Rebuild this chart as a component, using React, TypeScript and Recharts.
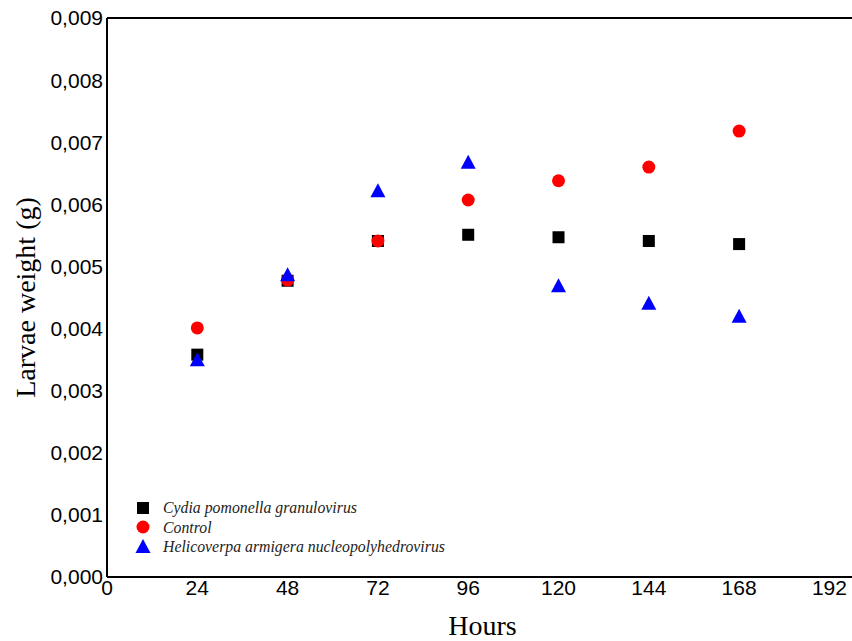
import { ScatterChart, Scatter, XAxis, YAxis, Legend, ReferenceLine } from "recharts";

const hours = [24, 48, 72, 96, 120, 144, 168];
const cpgv = [0.00358, 0.00477, 0.00541, 0.00551, 0.00547, 0.00541, 0.00536];
const control = [0.00401, 0.00478, 0.00541, 0.00607, 0.00638, 0.0066, 0.00718];
const hearnpv = [0.00349, 0.00486, 0.00621, 0.00667, 0.00468, 0.0044, 0.00419];
const xTicks = [0, 24, 48, 72, 96, 120, 144, 168, 192];
const yTicks = [0, 0.001, 0.002, 0.003, 0.004, 0.005, 0.006, 0.007, 0.008, 0.009];

const series = [
  { name: "Cydia pomonella granulovirus", values: cpgv, color: "#000000", shape: "square" },
  { name: "Control", values: control, color: "#ff0000", shape: "circle" },
  { name: "Helicoverpa armigera nucleopolyhedrovirus", values: hearnpv, color: "#0000ff", shape: "triangle" },
];

const toPoints = (vals: number[]) => hours.map((h, i) => ({ x: h, y: vals[i] }));

function Marker({ cx, cy, kind, color }: any) {
  if (cx == null || cy == null) return null;
  if (kind === "square") return <rect x={cx - 6} y={cy - 6} width={12} height={12} fill={color} />;
  if (kind === "circle") return <circle cx={cx} cy={cy} r={6.5} fill={color} />;
  return <polygon points={`${cx},${cy - 8} ${cx - 7.5},${cy + 6} ${cx + 7.5},${cy + 6}`} fill={color} />;
}

function LegendBox() {
  return (
    <div style={{ fontFamily: "'Liberation Serif', serif", fontStyle: "italic", fontSize: 15.8, lineHeight: "19.5px", color: "#222", textAlign: "left" }}>
      {series.map((s) => (
        <div key={s.name} style={{ display: "flex", alignItems: "center", height: 19.5 }}>
          <svg width={28} height={18}>
            <Marker cx={8} cy={9} kind={s.shape} color={s.color} />
          </svg>
          <span>{s.name}</span>
        </div>
      ))}
    </div>
  );
}

const tickStyle = { fontFamily: "'Liberation Sans', Arial, sans-serif", fontSize: 21, fill: "#000" };
const titleStyle = { fontFamily: "'Liberation Serif', serif", fontSize: 28, fill: "#000" };

export default function App() {
  return (
    <div style={{ position: "absolute", left: 0, top: 0, background: "#fff" }}>
      <ScatterChart width={852} height={641} margin={{ top: 18, right: 0, left: 47, bottom: 34 }}>
        <XAxis
          type="number"
          dataKey="x"
          domain={[0, 198]}
          ticks={xTicks}
          allowDataOverflow
          tickLine={false}
          tickSize={0}
          tickMargin={3}
          height={30}
          axisLine={{ stroke: "#000", strokeWidth: 2 }}
          tick={tickStyle}
          label={{ value: "Hours", position: "bottom", offset: 8, dx: 3, style: titleStyle }}
        />
        <YAxis
          type="number"
          dataKey="y"
          domain={[0, 0.009]}
          ticks={yTicks}
          tickFormatter={(v: number) => v.toFixed(3).replace(".", ",")}
          tickLine={false}
          tickSize={0}
          tickMargin={4}
          width={60}
          axisLine={{ stroke: "#000", strokeWidth: 2 }}
          tick={tickStyle}
          label={{ value: "Larvae weight (g)", angle: -90, position: "center", dx: -52, style: { ...titleStyle, textAnchor: "middle" } }}
        />
        <ReferenceLine y={0.009} stroke="#000" strokeWidth={2} ifOverflow="visible" />
        {series.map((s) => (
          <Scatter
            key={s.name}
            name={s.name}
            data={toPoints(s.values)}
            fill={s.color}
            isAnimationActive={false}
            shape={(p: any) => <Marker cx={p.cx} cy={p.cy} kind={s.shape} color={s.color} />}
          />
        ))}
        <Legend
          layout="horizontal"
          verticalAlign="middle"
          align="center"
          content={<LegendBox />}
          wrapperStyle={{ position: "absolute", left: 135, top: 498, width: 380 }}
        />
      </ScatterChart>
    </div>
  );
}
